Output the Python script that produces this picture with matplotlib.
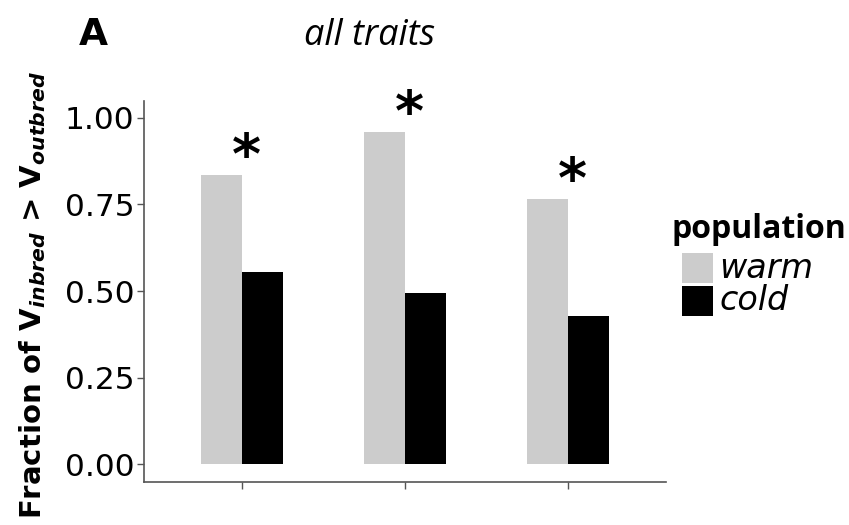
import matplotlib
matplotlib.use("Agg")
import numpy as np
import matplotlib.pyplot as plt
from matplotlib.patches import Rectangle

# Fraction of traits where inbred variance exceeds outbred variance
groups = ["1", "2", "3"]
warm = [0.836, 0.959, 0.767]
cold = [0.555, 0.494, 0.428]
significant = [True, True, True]
yticks = [0.00, 0.25, 0.50, 0.75, 1.00]
pop_labels = ["warm", "cold"]
pop_colors = ["#cccccc", "black"]

plt.rcParams["font.family"] = ["DejaVu Sans"]
plt.rcParams["mathtext.fontset"] = "dejavusans"

fig = plt.figure(figsize=(8.49, 5.25), dpi=100)
ax = fig.add_axes([144 / 849, 1 - 481.7 / 525, 522 / 849, 381.2 / 525])

x = np.arange(1, len(groups) + 1)
w = 0.25
ax.bar(x - w / 2, warm, width=w, color=pop_colors[0], edgecolor="none")
ax.bar(x + w / 2, cold, width=w, color=pop_colors[1], edgecolor="none")

# significance stars above each pair
for xi, v, sig in zip(x, warm, significant):
    if sig:
        ax.text(xi + 0.025, v + 0.005, "*", ha="center", va="baseline",
                fontsize=40, fontweight="bold")

ax.set_xlim(0.4, 3.6)
ax.set_ylim(-0.05, 1.05)
ax.set_xticks(x)
ax.set_xticklabels([])
ax.set_yticks(yticks)
ax.set_yticklabels([f"{t:.2f}" for t in yticks], fontsize=22.5)
ax.tick_params(axis="both", color="#555555", length=5, width=1)
ax.tick_params(axis="y", pad=2)

for side in ["top", "right"]:
    ax.spines[side].set_visible(False)
for side in ["left", "bottom"]:
    ax.spines[side].set_color("#555555")
    ax.spines[side].set_linewidth(1.2)

fig.text(32.5 / 849, 1 - 295 / 525,
         r"Fraction of $\mathbf{V}_{\mathbfit{inbred}}$ > $\mathbf{V}_{\mathbfit{outbred}}$",
         fontsize=21, fontweight="bold", rotation=90, ha="center", va="center")

fig.text(93 / 849, 1 - 45 / 525, "A", fontsize=27, fontweight="bold",
         ha="center", va="baseline")
fig.text(370 / 849, 1 - 45 / 525, "all traits", fontsize=26, style="italic",
         family="Open Sans", ha="center", va="baseline")

# legend drawn by hand so the keys sit indented under the title
fig.text(672 / 849, 1 - 230 / 525, "population", fontsize=23, fontweight="bold",
         family="Open Sans", ha="left", va="center")
key_top = [253, 286]
for top, lab, col in zip(key_top, pop_labels, pop_colors):
    fig.patches.append(Rectangle((682 / 849, 1 - (top + 30) / 525), 31 / 849, 30 / 525,
                                 transform=fig.transFigure, facecolor=col,
                                 edgecolor="none"))
    fig.text(719 / 849, 1 - (top + 15) / 525, lab, fontsize=24, style="italic",
             ha="left", va="center")

fig.savefig("out.png", dpi=100)
